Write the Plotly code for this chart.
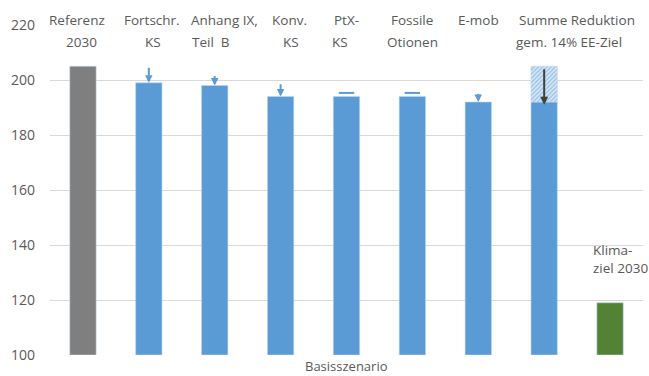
import plotly.graph_objects as go

# Category labels drawn above the bars (two lines each)
label_line1 = ["Referenz", "Fortschr.", "Anhang IX,", "Konv.", "PtX-", "Fossile", "E-mob", "Summe Reduktion", ""]
label_line2 = ["2030", "KS", "Teil  B", "KS", "KS", "Otionen", "", "gem. 14% EE-Ziel", ""]
categories = list(range(9))

# Emissions per step
values = [205, 199, 198, 194, 194, 194, 192, 192, 119]
# Value each reduction arrow starts from (None = no arrow)
arrow_from = [None, 205, 202, 199, 195.3, 195.3, 195.5, None, None]
# Total reduction shown as hatched segment on the summary bar
summary_top = 205
summary_index = 7

bar_colors = ["#7F7F7F"] + ["#5B9BD5"] * 7 + ["#548235"]
text_color = "#595959"
font_family = "Open Sans, Liberation Sans, sans-serif"

fig = go.Figure()

fig.add_trace(go.Bar(
    x=categories, y=[v - 100 for v in values], base=100,
    marker=dict(color=bar_colors, line=dict(color="#BDD7EE", width=0.6)),
    width=0.4, showlegend=False, hoverinfo="skip",
))

# Hatched segment for the cumulative reduction
fig.add_trace(go.Bar(
    x=[summary_index], y=[summary_top - values[summary_index]], base=values[summary_index],
    marker=dict(color="#DDEBF7", line=dict(color="#BDD7EE", width=0.6),
                pattern=dict(shape="/", fgcolor="#5B9BD5", bgcolor="#DDEBF7", size=3, solidity=0.5)),
    width=0.4, showlegend=False, hoverinfo="skip",
))

annotations = []
dash_x, dash_y = [], []
for i, (v, a) in enumerate(zip(values, arrow_from)):
    if a is None:
        continue
    if a - v >= 2:
        annotations.append(dict(
            x=i, y=v, ax=i, ay=a, xref="x", yref="y", axref="x", ayref="y",
            showarrow=True, arrowhead=2, arrowsize=0.75, arrowwidth=2,
            arrowcolor="#5B9BD5", text="",
        ))
    else:
        dash_x.append(i)
        dash_y.append(a)

fig.add_trace(go.Scatter(
    x=dash_x, y=dash_y, mode="markers",
    marker=dict(symbol="line-ew", size=11, line=dict(color="#5B9BD5", width=2)),
    showlegend=False, hoverinfo="skip",
))

# Dark arrow across the summary bar
annotations.append(dict(
    x=summary_index, y=values[summary_index] - 1, ax=summary_index, ay=summary_top - 0.5,
    xref="x", yref="y", axref="x", ayref="y",
    showarrow=True, arrowhead=2, arrowsize=0.8, arrowwidth=2,
    arrowcolor="#404040", text="",
))

# Two-line category labels straddling the top grid line
label_shift = [-6, 3, 10, 9, 0, 0, 0, 33, 0]
line2_shift = [-1, 4, -4, 10, -7, 0, 0, 25, 0]
for i in categories:
    if label_line1[i]:
        annotations.append(dict(
            x=i, y=220, xref="x", yref="y", text=label_line1[i], showarrow=False,
            xanchor="center", yanchor="middle", xshift=label_shift[i], yshift=5,
            font=dict(size=13.5, color=text_color, family=font_family),
        ))
    if label_line2[i]:
        annotations.append(dict(
            x=i, y=220, xref="x", yref="y", text=label_line2[i], showarrow=False,
            xanchor="center", yanchor="middle", xshift=line2_shift[i], yshift=-17,
            font=dict(size=13.5, color=text_color, family=font_family),
        ))

# Climate target label
annotations.append(dict(
    x=8, y=values[8], xref="x", yref="y", text="Klima-<br>ziel 2030", showarrow=False,
    xanchor="left", yanchor="bottom", xshift=-19, yshift=24, align="left",
    font=dict(size=13.5, color=text_color, family=font_family),
))

# Axis title under the plot area
annotations.append(dict(
    x=0.5, y=0, xref="paper", yref="paper", text="Basisszenario", showarrow=False,
    xanchor="center", yanchor="top", yshift=0,
    font=dict(size=13, color=text_color, family=font_family),
))

fig.update_layout(
    width=649, height=376,
    margin=dict(l=50, r=6, t=25, b=21),
    paper_bgcolor="white", plot_bgcolor="white",
    barmode="overlay",
    annotations=annotations,
    font=dict(family=font_family, color=text_color),
)
fig.update_xaxes(
    range=[-0.5, 8.5], showticklabels=False, showgrid=False, zeroline=False,
    showline=False, fixedrange=True,
)
fig.update_yaxes(
    range=[100, 220], tickvals=[100, 120, 140, 160, 180, 200, 220],
    showgrid=True, gridcolor="#D9D9D9", gridwidth=1, zeroline=False, showline=False,
    ticks="", ticklabelstandoff=14,
    tickfont=dict(size=14, color=text_color, family=font_family),
)

fig.write_html("out.html")
